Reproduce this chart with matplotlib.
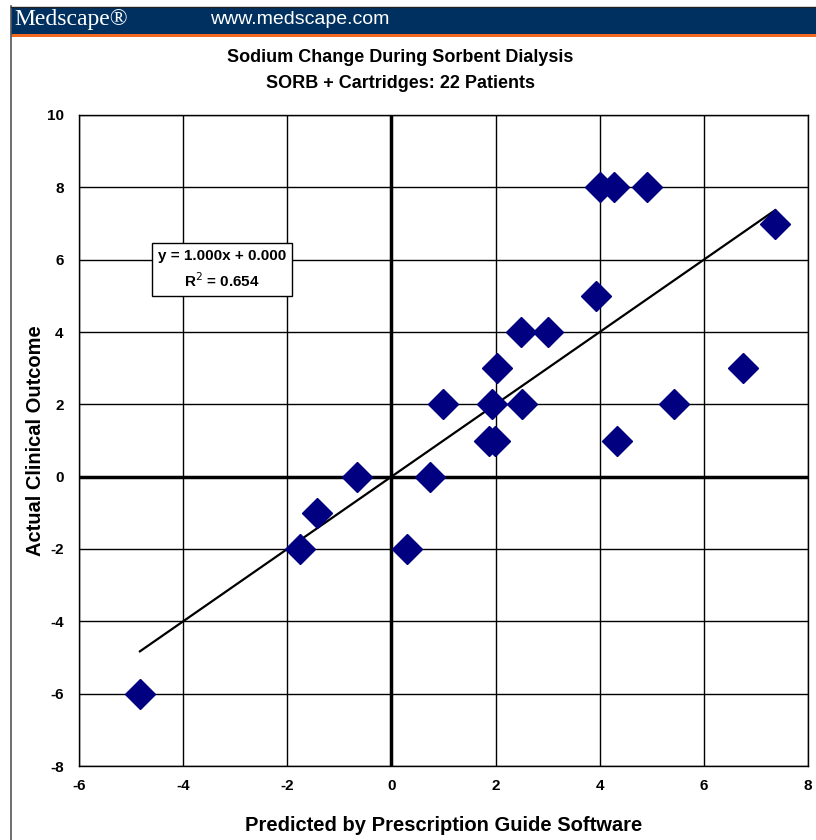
import matplotlib
matplotlib.use('Agg')
import matplotlib.pyplot as plt
from matplotlib.patches import Rectangle
from matplotlib.lines import Line2D

plt.rcParams['font.family'] = ['Liberation Sans', 'DejaVu Sans']
plt.rcParams['axes.unicode_minus'] = False

# Predicted (software) vs actual sodium change, 22 patients
predicted = [-4.83, -1.76, -1.43, -0.66, 0.30, 0.74, 0.99, 1.88, 1.98, 1.93,
             2.03, 2.51, 2.48, 3.01, 3.93, 4.01, 4.28, 4.91, 4.33, 5.43, 6.75, 7.37]
actual = [-6, -2, -1, 0, -2, 0, 2, 1, 1, 2,
          3, 2, 4, 4, 5, 8, 8, 8, 1, 2, 3, 7]
slope, intercept = 1.0, 0.0

xticks = [-6, -4, -2, 0, 2, 4, 6, 8]
yticks = [-8, -6, -4, -2, 0, 2, 4, 6, 8, 10]

fig = plt.figure(figsize=(8.16, 8.4), dpi=100)

# Medscape header bar
fig.patches.append(Rectangle((11/816, 1 - 34/840), 1, 27/840, transform=fig.transFigure,
                             facecolor='#00305f', edgecolor='none'))
fig.patches.append(Rectangle((11/816, 1 - 37/840), 1, 3/840, transform=fig.transFigure,
                             facecolor='#f26a21', edgecolor='none'))
fig.lines.append(Line2D([11/816, 11/816], [0, 1 - 6/840], transform=fig.transFigure,
                        color='#555555', lw=1.2))
fig.lines.append(Line2D([11/816, 1], [1 - 6.5/840, 1 - 6.5/840], transform=fig.transFigure,
                        color='#222222', lw=1))
fig.text(14/816, 1 - 20/840, 'Medscape®', family='Liberation Serif', fontsize=17,
         color='white', va='center', ha='left')
fig.text(210/816, 1 - 20/840, 'www.medscape.com', fontsize=14, color='white',
         va='center', ha='left')

fig.text(400/816, 1 - 57/840, 'Sodium Change During Sorbent Dialysis', fontsize=13,
         fontweight='bold', ha='center', va='center')
fig.text(400/816, 1 - 84/840, 'SORB + Cartridges: 22 Patients', fontsize=13,
         fontweight='bold', ha='center', va='center')

ax = fig.add_axes([79/816, 74/840, 729/816, 651/840])
ax.set_xlim(-6, 8)
ax.set_ylim(-8, 10)
ax.set_xticks(xticks)
ax.set_yticks(yticks)
ax.tick_params(length=0, labelsize=11)
ax.tick_params(axis='x', pad=9)
ax.tick_params(axis='y', pad=11)
for lab in ax.get_xticklabels() + ax.get_yticklabels():
    lab.set_fontweight('bold')
ax.grid(True, color='black', lw=1.0)
ax.set_axisbelow(True)
for s in ax.spines.values():
    s.set_linewidth(1.0)
ax.axhline(0, color='black', lw=2.5, zorder=1.5)
ax.axvline(0, color='black', lw=2.5, zorder=1.5)

xs = [min(predicted), max(predicted)]
ax.plot(xs, [slope * v + intercept for v in xs], color='black', lw=1.6, zorder=3)
ax.plot(predicted, actual, 'D', color='#000080', markersize=15.5, zorder=4)

ax.text(-3.25, 5.73, 'y = 1.000x + 0.000\nR$^2$ = 0.654', ha='center', va='center',
        fontsize=11, fontweight='bold', linespacing=1.55, zorder=5,
        bbox=dict(boxstyle='square,pad=0.4', facecolor='white', edgecolor='black', lw=1))

ax.set_xlabel('Predicted by Prescription Guide Software', fontsize=14.5,
              fontweight='bold', labelpad=17)
ax.set_ylabel('Actual Clinical Outcome', fontsize=14.5, fontweight='bold', labelpad=1)

fig.savefig('out.png', dpi=100)
